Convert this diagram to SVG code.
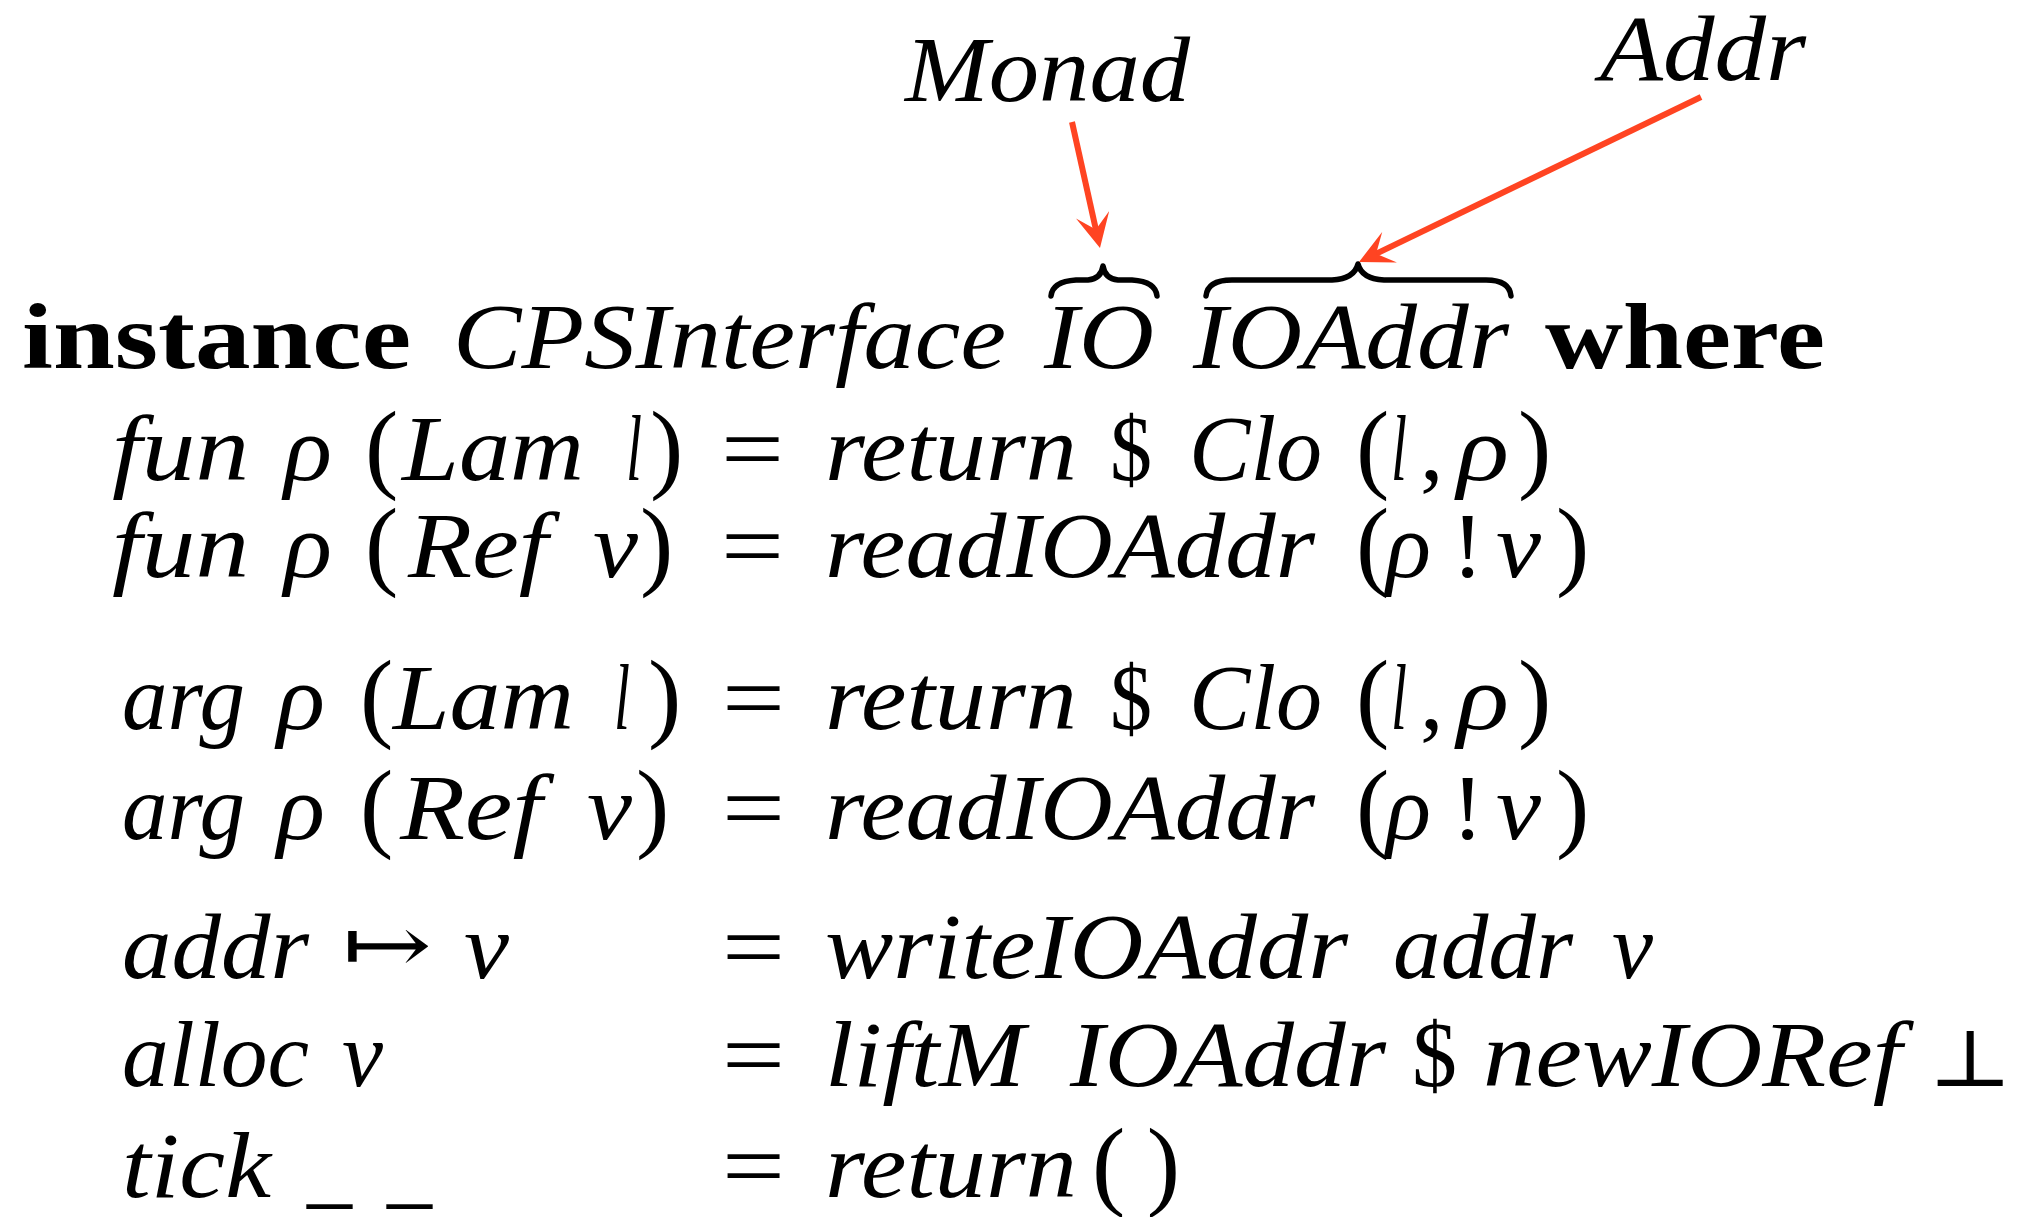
<svg xmlns="http://www.w3.org/2000/svg" width="2022" height="1217" viewBox="0 0 2022 1217">
<style>
.m{font-family:"Liberation Serif","DejaVu Serif",serif;font-style:italic;font-size:94px;fill:#000}
.r{font-family:"Liberation Serif","DejaVu Serif",serif;font-size:94px;fill:#000}
.p{font-family:"Liberation Serif","DejaVu Serif",serif;font-size:100px;fill:#000}
.b{font-family:"Liberation Serif","DejaVu Serif",serif;font-weight:bold;font-size:94px;fill:#000}
.s{font-family:"DejaVu Serif","DejaVu Sans",serif;font-size:80px;fill:#000}
.brace{fill:none;stroke:#000;stroke-width:5.5;stroke-linecap:round;stroke-linejoin:round}
.arrow{fill:none;stroke:#FF4422;stroke-width:6}
</style>
<defs>
<marker id="ah" markerUnits="userSpaceOnUse" viewBox="0 0 34 34" markerWidth="34" markerHeight="34" refX="17" refY="17" orient="auto">
<path d="M0,0 L34,17 L0,34 L15,17 Z" fill="#FF4422"/>
</marker>
</defs>
<rect width="2022" height="1217" fill="#fff"/>

<g id="label-monad">
<text class="m" x="905" y="101" textLength="285" lengthAdjust="spacingAndGlyphs">Monad</text>
</g>
<g id="label-addr">
<text class="m" x="1600" y="80" textLength="206" lengthAdjust="spacingAndGlyphs">Addr</text>
</g>

<g id="brace-io">
<path class="brace" d="M1051,296 C1052,286 1060,281 1076,280 L1088,280 C1098,279 1102,273 1103,266 C1104,273 1108,279 1118,280 L1132,280 C1148,281 1156,286 1157,296"/>
</g>
<g id="brace-ioaddr">
<path class="brace" d="M1206,296 C1207,286 1215,280 1232,280 L1332,280 C1350,279 1356,272 1358,264 C1360,272 1366,279 1384,280 L1486,280 C1503,280 1510,286 1511,296"/>
</g>

<g id="connectors">
<line class="arrow" x1="1072" y1="122" x2="1096.3" y2="231.4" marker-end="url(#ah)"/>
<line class="arrow" x1="1701" y1="97" x2="1374.3" y2="254.6" marker-end="url(#ah)"/>
</g>

<g id="line-instance">
<text class="b" x="22" y="368" textLength="389" lengthAdjust="spacingAndGlyphs">instance</text>
<text class="m" x="453" y="368" textLength="553" lengthAdjust="spacingAndGlyphs">CPSInterface</text>
<text class="m" x="1044" y="368" textLength="110" lengthAdjust="spacingAndGlyphs">IO</text>
<text class="m" x="1193" y="368" textLength="316" lengthAdjust="spacingAndGlyphs">IOAddr</text>
<text class="b" x="1545" y="368" textLength="280" lengthAdjust="spacingAndGlyphs">where</text>
</g>

<g id="line-fun-lam">
<text class="m" x="112" y="480" textLength="137" lengthAdjust="spacingAndGlyphs">fun</text>
<text class="m" x="284" y="480" textLength="48" lengthAdjust="spacingAndGlyphs">ρ</text>
<text class="p" x="365" y="480">(</text>
<text class="m" x="402" y="480" textLength="182" lengthAdjust="spacingAndGlyphs">Lam</text>
<text class="m" x="626" y="480" textLength="16" lengthAdjust="spacingAndGlyphs">l</text>
<text class="p" x="650" y="480">)</text>
<text class="r" x="721" y="480" textLength="63" lengthAdjust="spacingAndGlyphs">=</text>
<text class="m" x="825" y="480" textLength="252" lengthAdjust="spacingAndGlyphs">return</text>
<text class="r" x="1110" y="480" textLength="42" lengthAdjust="spacingAndGlyphs">$</text>
<text class="m" x="1189" y="480" textLength="133" lengthAdjust="spacingAndGlyphs">Clo</text>
<text class="p" x="1356" y="480">(</text>
<text class="m" x="1391" y="480" textLength="16" lengthAdjust="spacingAndGlyphs">l</text>
<text class="r" x="1420" y="480">,</text>
<text class="m" x="1457" y="480" textLength="52" lengthAdjust="spacingAndGlyphs">ρ</text>
<text class="p" x="1518" y="480">)</text>
</g>

<g id="line-fun-ref">
<text class="m" x="112" y="577" textLength="137" lengthAdjust="spacingAndGlyphs">fun</text>
<text class="m" x="284" y="577" textLength="48" lengthAdjust="spacingAndGlyphs">ρ</text>
<text class="p" x="365" y="577">(</text>
<text class="m" x="408" y="577" textLength="140" lengthAdjust="spacingAndGlyphs">Ref</text>
<text class="m" x="593" y="577" textLength="45" lengthAdjust="spacingAndGlyphs">v</text>
<text class="p" x="640" y="577">)</text>
<text class="r" x="721" y="577" textLength="63" lengthAdjust="spacingAndGlyphs">=</text>
<text class="m" x="825" y="577" textLength="490" lengthAdjust="spacingAndGlyphs">readIOAddr</text>
<text class="p" x="1356" y="577">(</text>
<text class="m" x="1386" y="577" textLength="45" lengthAdjust="spacingAndGlyphs">ρ</text>
<text class="r" x="1452" y="577">!</text>
<text class="m" x="1496" y="577" textLength="45" lengthAdjust="spacingAndGlyphs">v</text>
<text class="p" x="1556" y="577">)</text>
</g>

<g id="line-arg-lam">
<text class="m" x="122" y="729" textLength="123" lengthAdjust="spacingAndGlyphs">arg</text>
<text class="m" x="277" y="729" textLength="48" lengthAdjust="spacingAndGlyphs">ρ</text>
<text class="p" x="360" y="729">(</text>
<text class="m" x="393" y="729" textLength="181" lengthAdjust="spacingAndGlyphs">Lam</text>
<text class="m" x="614" y="729" textLength="16" lengthAdjust="spacingAndGlyphs">l</text>
<text class="p" x="648" y="729">)</text>
<text class="r" x="722" y="729" textLength="63" lengthAdjust="spacingAndGlyphs">=</text>
<text class="m" x="825" y="729" textLength="252" lengthAdjust="spacingAndGlyphs">return</text>
<text class="r" x="1110" y="729" textLength="42" lengthAdjust="spacingAndGlyphs">$</text>
<text class="m" x="1189" y="729" textLength="133" lengthAdjust="spacingAndGlyphs">Clo</text>
<text class="p" x="1356" y="729">(</text>
<text class="m" x="1391" y="729" textLength="16" lengthAdjust="spacingAndGlyphs">l</text>
<text class="r" x="1420" y="729">,</text>
<text class="m" x="1457" y="729" textLength="52" lengthAdjust="spacingAndGlyphs">ρ</text>
<text class="p" x="1518" y="729">)</text>
</g>

<g id="line-arg-ref">
<text class="m" x="122" y="839" textLength="123" lengthAdjust="spacingAndGlyphs">arg</text>
<text class="m" x="277" y="839" textLength="48" lengthAdjust="spacingAndGlyphs">ρ</text>
<text class="p" x="360" y="839">(</text>
<text class="m" x="400" y="839" textLength="142" lengthAdjust="spacingAndGlyphs">Ref</text>
<text class="m" x="587" y="839" textLength="45" lengthAdjust="spacingAndGlyphs">v</text>
<text class="p" x="636" y="839">)</text>
<text class="r" x="722" y="839" textLength="63" lengthAdjust="spacingAndGlyphs">=</text>
<text class="m" x="825" y="839" textLength="490" lengthAdjust="spacingAndGlyphs">readIOAddr</text>
<text class="p" x="1356" y="839">(</text>
<text class="m" x="1386" y="839" textLength="45" lengthAdjust="spacingAndGlyphs">ρ</text>
<text class="r" x="1452" y="839">!</text>
<text class="m" x="1496" y="839" textLength="45" lengthAdjust="spacingAndGlyphs">v</text>
<text class="p" x="1556" y="839">)</text>
</g>

<g id="line-addr">
<text class="m" x="122" y="978" textLength="187" lengthAdjust="spacingAndGlyphs">addr</text>
<text class="s" x="342" y="972" textLength="90" lengthAdjust="spacingAndGlyphs">↦</text>
<text class="m" x="464" y="978" textLength="45" lengthAdjust="spacingAndGlyphs">v</text>
<text class="r" x="722" y="978" textLength="63" lengthAdjust="spacingAndGlyphs">=</text>
<text class="m" x="825" y="978" textLength="523" lengthAdjust="spacingAndGlyphs">writeIOAddr</text>
<text class="m" x="1393" y="978" textLength="180" lengthAdjust="spacingAndGlyphs">addr</text>
<text class="m" x="1612" y="978" textLength="41" lengthAdjust="spacingAndGlyphs">v</text>
</g>

<g id="line-alloc">
<text class="m" x="122" y="1086" textLength="187" lengthAdjust="spacingAndGlyphs">alloc</text>
<text class="m" x="342" y="1086" textLength="41" lengthAdjust="spacingAndGlyphs">v</text>
<text class="r" x="722" y="1086" textLength="63" lengthAdjust="spacingAndGlyphs">=</text>
<text class="m" x="825" y="1086" textLength="200" lengthAdjust="spacingAndGlyphs">liftM</text>
<text class="m" x="1070" y="1086" textLength="316" lengthAdjust="spacingAndGlyphs">IOAddr</text>
<text class="r" x="1412" y="1086" textLength="45" lengthAdjust="spacingAndGlyphs">$</text>
<text class="m" x="1483" y="1086" textLength="419" lengthAdjust="spacingAndGlyphs">newIORef</text>
<text class="s" x="1928" y="1086" textLength="84" lengthAdjust="spacingAndGlyphs">⊥</text>
</g>

<g id="line-tick">
<text class="m" x="122" y="1197" textLength="149" lengthAdjust="spacingAndGlyphs">tick</text>
<text class="r" x="307" y="1197" textLength="45" lengthAdjust="spacingAndGlyphs">_</text>
<text class="r" x="387" y="1197" textLength="45" lengthAdjust="spacingAndGlyphs">_</text>
<text class="r" x="722" y="1197" textLength="63" lengthAdjust="spacingAndGlyphs">=</text>
<text class="m" x="825" y="1197" textLength="252" lengthAdjust="spacingAndGlyphs">return</text>
<text class="p" x="1092" y="1197" textLength="88" lengthAdjust="spacing">()</text>
</g>
</svg>
